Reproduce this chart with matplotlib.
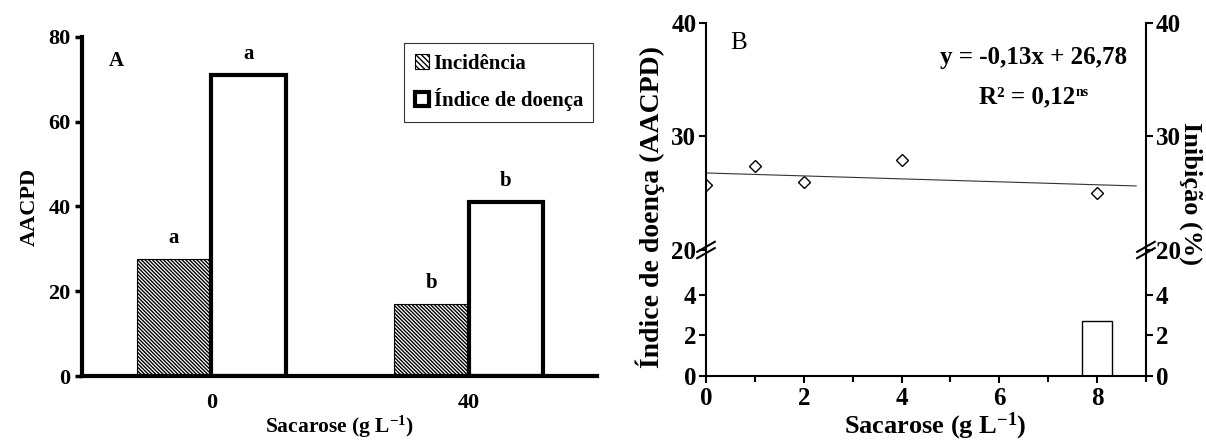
import numpy as np
import matplotlib
matplotlib.use('Agg')
import matplotlib.pyplot as plt
from matplotlib.patches import Patch

plt.rcParams['font.family'] = ['Liberation Serif', 'DejaVu Serif']
plt.rcParams['font.weight'] = 'bold'
plt.rcParams['axes.labelweight'] = 'bold'
plt.rcParams['mathtext.fontset'] = 'custom'
plt.rcParams['mathtext.rm'] = 'Liberation Serif:bold'
plt.rcParams['mathtext.bf'] = 'Liberation Serif:bold'
plt.rcParams['mathtext.default'] = 'bf'
plt.rcParams['hatch.linewidth'] = 1.0

# painel A
doses_a = ['0', '40']
incidencia = [27.5, 17.0]
indice = [71.0, 41.1]
letras_inc = ['a', 'b']
letras_ind = ['a', 'b']

# painel B
doses_b = [0, 1, 2, 4, 8]
aacpd_b = [25.7, 27.4, 26.0, 27.9, 25.0]
inib_x = [8]
inibicao = [2.7]
coef_a, coef_b = -0.13, 26.78
reta_x = [0, 8.8]

hachura = '\\' * 9

fig = plt.figure(figsize=(12.06, 4.44), dpi=100)

#----- A -----
axA = fig.add_axes([0.0684, 0.153, 0.427, 0.764])
x = np.arange(len(doses_a))
w = 0.29
axA.bar(x - w/2, incidencia, w, color='white', edgecolor='black',
        hatch=hachura, linewidth=0.8)
axA.bar(x + w/2, indice, w, color='white', edgecolor='black', linewidth=3)
for i in range(len(x)):
    axA.text(x[i] - w/2, incidencia[i] + 5, letras_inc[i], ha='center', va='center', fontsize=15)
    axA.text(x[i] + w/2, indice[i] + 5, letras_ind[i], ha='center', va='center', fontsize=15)
axA.set_xlim(-0.5, 1.5)
axA.set_ylim(0, 80)
axA.set_yticks([0, 20, 40, 60, 80])
axA.set_xticks(x)
axA.set_xticklabels(doses_a)
for s in ['top', 'right']:
    axA.spines[s].set_visible(False)
for s in ['left', 'bottom']:
    axA.spines[s].set_linewidth(3)
axA.tick_params(axis='y', direction='out', length=5, width=2.5, labelsize=16)
axA.tick_params(axis='x', length=0, pad=12, labelsize=16)
axA.set_ylabel('AACPD', fontsize=16, labelpad=6)
axA.set_xlabel('Sacarose (g L$^{-1}$)', fontsize=15.5, labelpad=1)
axA.text(0.065, 0.93, 'A', transform=axA.transAxes, ha='center', va='center', fontsize=15)
handles = [Patch(facecolor='white', edgecolor='black', hatch='\\' * 6, linewidth=0.8),
           Patch(facecolor='white', edgecolor='black', linewidth=3)]
leg = axA.legend(handles, ['Incidência', 'Índice de doença'], loc='upper right',
                 bbox_to_anchor=(0.992, 0.981), borderaxespad=0, fancybox=False,
                 edgecolor='black', fontsize=15, handlelength=0.7, handleheight=0.7,
                 handletextpad=0.2, labelspacing=0.7, borderpad=0.5)
leg.get_frame().set_linewidth(0.8)

#----- B -----
axT = fig.add_axes([0.5854, 0.4369, 0.3648, 0.512])
axL = fig.add_axes([0.5854, 0.1532, 0.3648, 0.2838])

axT.plot(doses_b, aacpd_b, linestyle='none', marker='D', markersize=6,
         markerfacecolor='white', markeredgecolor='black', markeredgewidth=1)
rx = np.array(reta_x)
axT.plot(rx, coef_a * rx + coef_b, color='#333333', linewidth=0.8)
axL.bar(inib_x, inibicao, 0.6, color='white', edgecolor='black', linewidth=1)

for ax in [axT, axL]:
    ax.set_xlim(0, 9)
    ax.spines['top'].set_visible(False)
    for s in ['left', 'right', 'bottom']:
        ax.spines[s].set_linewidth(1.5)
    ax.tick_params(axis='y', direction='out', length=5, width=1.5, labelsize=18,
                   right=True, labelright=True, pad=2)
axT.spines['bottom'].set_visible(False)
axT.set_ylim(20, 40)
axT.set_yticks([20, 30, 40])
axT.set_xticks([])
axL.set_ylim(0, 6.2)
axL.set_yticks([0, 2, 4])
axL.set_xticks([0, 2, 4, 6, 8])
axL.set_xticks([1, 3, 5, 7, 9], minor=True)
axL.tick_params(axis='x', which='major', direction='out', length=5, width=1.5, labelsize=18, pad=3)
axL.tick_params(axis='x', which='minor', direction='out', length=4, width=1.5)

# marcas de quebra
for xa in [0, 1]:
    for dy in [-0.025, 0.025]:
        axL.plot([xa - 0.02, xa + 0.02], [1 + dy - 0.04, 1 + dy + 0.04], transform=axL.transAxes,
                 color='black', linewidth=1.5, clip_on=False)

axT.text(0.073, 0.911, 'B', transform=axT.transAxes, ha='center', va='center',
         fontsize=18, fontweight='normal')
axT.text(0.957, 0.845, 'y = -0,13x + 26,78', transform=axT.transAxes, ha='right',
         va='center', fontsize=18)
t = axT.text(0.84, 0.673, 'R² = 0,12', transform=axT.transAxes, ha='right',
             va='center', fontsize=18)
axT.annotate('ns', xy=(1, 1), xycoords=t, ha='left', va='top', fontsize=10)

fig.text(650/1206, 1 - 207/444, 'Índice de doença (AACPD)', rotation=90,
         ha='center', va='center', fontsize=20)
fig.text(1191/1206, 1 - 193/444, 'Inibição (%)', rotation=-90,
         ha='center', va='center', fontsize=19)
fig.text(935/1206, 0.004, 'Sacarose (g L$^{-1}$)', ha='center', va='bottom', fontsize=19)

fig.savefig('out.png', dpi=100)
